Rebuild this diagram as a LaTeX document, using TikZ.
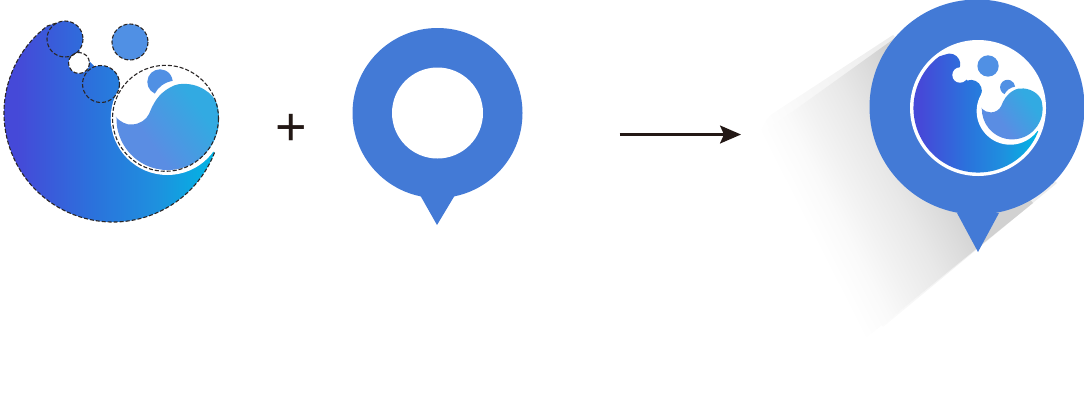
\documentclass[tikz,border=0pt]{standalone}
\usepackage{fontspec}
\setmainfont{Liberation Sans}
\usetikzlibrary{arrows.meta,calc}
\definecolor{pinblue}{HTML}{437AD6}
\definecolor{dropblue}{HTML}{5090E4}
\definecolor{dashink}{HTML}{2A2626}
\definecolor{inkblack}{HTML}{231815}
\pgfdeclarehorizontalshading{bodyshade}{100bp}{
  rgb(0bp)=(0.271,0.286,0.847);
  rgb(31bp)=(0.271,0.286,0.847);
  rgb(48bp)=(0.169,0.447,0.863);
  rgb(62bp)=(0.118,0.565,0.871);
  rgb(74bp)=(0.012,0.702,0.894);
  rgb(100bp)=(0.012,0.702,0.894)}
\pgfdeclarehorizontalshading{waveshade}{100bp}{
  rgb(0bp)=(0.353,0.553,0.890);
  rgb(38bp)=(0.353,0.553,0.890);
  rgb(68bp)=(0.196,0.667,0.886);
  rgb(100bp)=(0.196,0.667,0.886)}
\pgfdeclarehorizontalshading{shadowin}{100bp}{
  rgb(0bp)=(1,1,1);
  rgb(43bp)=(1,1,1);
  rgb(45.3bp)=(0.98,0.98,0.98);
  rgb(47.1bp)=(0.95,0.95,0.95);
  rgb(49.8bp)=(0.91,0.91,0.91);
  rgb(51.9bp)=(0.865,0.865,0.865);
  rgb(53.8bp)=(0.82,0.82,0.82);
  rgb(100bp)=(0.82,0.82,0.82)}
\pgfdeclarehorizontalshading{shadowout}{100bp}{
  rgb(0bp)=(1,1,1);
  rgb(43bp)=(1,1,1);
  rgb(47.1bp)=(0.97,0.97,0.97);
  rgb(49.8bp)=(0.955,0.955,0.955);
  rgb(53.8bp)=(0.93,0.93,0.93);
  rgb(100bp)=(0.92,0.92,0.92)}
\tikzset{
  pinfill/.style={fill=pinblue,draw=none},
  holefill/.style={fill=white,draw=none},
  dropfill/.style={fill=dropblue,draw=none},
  dashring/.style={draw=dashink,line width=1.1pt,dash pattern=on 4pt off 2pt},
  bodystyle/.style={shading=bodyshade,shading angle=0},
  wavestyle/.style={shading=waveshade,shading angle=35},
}
% the logo, in the units of the left-hand drawing;
% #1,#2 shift the wave group; #3,#4,#5 place the round notch
\newcommand{\logoparts}[5]{%
  \shade[bodystyle]
    ($(113,113)+(21.3:109)$) arc (21.3:233:109)
    -- ($(65,39)+(244:18)$) arc (244:400:18)
    -- ($(101,84)+(250:18.5)$) arc (250:380:18.5)
    -- (167.4,118.3) -- cycle;
  \path[holefill] (167.4,118.3) circle (56.7);
  \path[holefill] (#3,#4) circle (#5);
  \path[dropfill] (130,42) circle (18);
  \begin{scope}[shift={(#1,#2)}]
    \path[dropfill] ($(160,82)+(114:12.7)$) arc (114:355:12.7)
      .. controls (165,82) and (158,87) .. (154.8,93.6) -- cycle;
    \shade[wavestyle] (115.5,117)
      .. controls (121,122) and (126,125) .. (132,124.5)
      .. controls (140,124) and (146,120) .. (149,114)
      .. controls (153,104) and (158,94) .. (170,87.5)
      .. controls (176,84) and (181,83.5) .. (187,84)
      .. controls (203,85) and (218,97) .. (218.3,110)
      arc (-9.8:182:51.3) -- cycle;
  \end{scope}%
}
\begin{document}
\begin{tikzpicture}[x=1pt,y=-1pt]
\useasboundingbox (0,0) rectangle (1084,408);

% left logo
\logoparts{0}{0}{79}{63}{10.5}
\draw[dashring] ($(113,113)+(21.3:109)$) arc (21.3:233:109) -- ($(65,39)+(244:18)$);
\draw[dashring] (65,39) circle (18);
\draw[dashring] (130,42) circle (18);
\draw[dashring] (79,63) circle (10.5);
\draw[dashring] (101,84) circle (18.5);
\draw[dashring] (165.5,118.3) circle (53);

% plus
\node[inner sep=0pt,font=\fontsize{54}{54}\selectfont,text=inkblack] (plus) at (291,130) {+};

% middle pin
\path[pinfill] (420,195) -- (437,225) -- (455,195) -- cycle;
\path[pinfill] (437.5,113) circle (85);
\path[holefill] (437.5,113) circle (45.5);

% arrow
\coordinate (arrowfrom) at (619.5,134.5);
\coordinate (arrowto) at (741,134.5);
\draw[draw=inkblack,line width=2.3pt,-{Stealth[length=21pt,width=18pt,inset=4pt]}] (arrowfrom) -- (arrowto);

% long shadow
\begin{scope}
  \clip (893,35) -- (772,114) .. controls (766,118) and (760,130) .. (758,140) -- (883,327) -- (1057,183) -- cycle;
  \shade[shading=shadowout,shading angle=27] (550,-155) rectangle (1250,545);
\end{scope}
\begin{scope}
  \clip (895,38) -- (760,135) -- (850,351) -- (1033,203) -- cycle;
  \shade[shading=shadowin,shading angle=27] (550,-155) rectangle (1250,545);
\end{scope}

% right pin
\path[pinfill] (957,213) -- (978,252) -- (999,213) -- cycle;
\path[pinfill] (977,107) circle (107.5);
\path[holefill] (978,108) circle (68);
\begin{scope}[shift={(978,108)},scale=0.592,shift={(-113,-113)}]
  \logoparts{3}{-4}{82.6}{57.3}{13}
\end{scope}
\end{tikzpicture}
\end{document}
